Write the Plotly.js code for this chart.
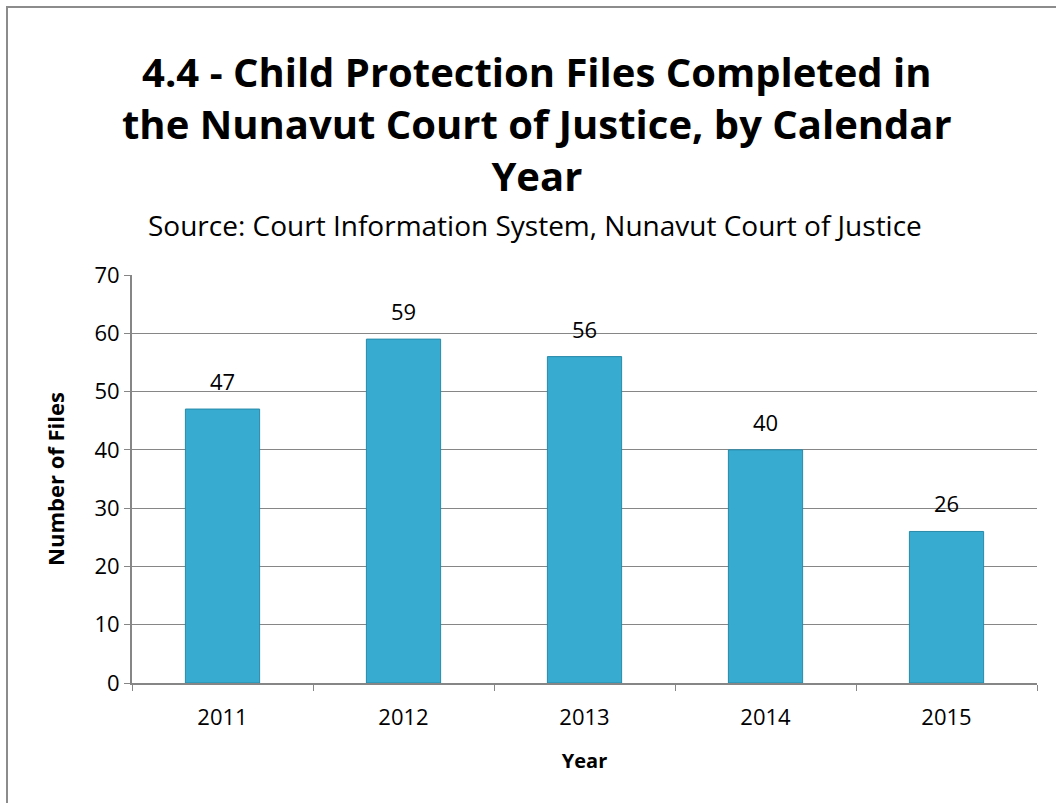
<!DOCTYPE html>
<html>
<head>
<meta charset="utf-8">
<script src="https://cdn.plot.ly/plotly-3.0.1.min.js"></script>
<style>
  body { margin: 0; background: #fff; }
  #frame { position: absolute; left: 6px; top: 6px; width: 1100px; height: 900px;
           border-left: 2px solid #8c8c8c; border-top: 2px solid #8c8c8c; }
  #chart { position: absolute; left: 0; top: 0; width: 1056px; height: 803px; }
</style>
</head>
<body>
<div id="frame"></div>
<div id="chart"></div>
<script>
// values
let years = ['2011', '2012', '2013', '2014', '2015'];
let files = [47, 59, 56, 40, 26];
let yTicks = [0, 10, 20, 30, 40, 50, 60, 70];

let font = '"Open Sans", Lato, sans-serif';

let trace = [{
  x: years,
  y: files,
  type: 'bar',
  marker: {
    color: '#37acd0',
    line: {color: '#2789a8', width: 1}
  },
  hoverinfo: 'x+y'
}];

// value labels above each bar (x given as category index)
let labels = [];
for (let i = 0; i < years.length; i++) {
  labels.push({
    x: i, y: files[i], text: String(files[i]),
    xref: 'x', yref: 'y',
    showarrow: false, yanchor: 'bottom', yshift: 11,
    font: {family: font, size: 22, color: '#000'}
  });
}

let titleNotes = [
  {
    text: '<b>4.4 - Child Protection Files Completed in<br>the Nunavut Court of Justice, by Calendar<br>Year</b>',
    xref: 'paper', yref: 'paper', x: 0.448, y: 1.57,
    xanchor: 'center', yanchor: 'top', showarrow: false,
    font: {family: font, size: 40, color: '#000'}
  },
  {
    text: 'Source: Court Information System, Nunavut Court of Justice',
    xref: 'paper', yref: 'paper', x: 0.445, y: 1.1225,
    xanchor: 'center', yanchor: 'middle', showarrow: false,
    font: {family: font, size: 28, color: '#000'}
  }
];

let layout = {
  width: 1056,
  height: 803,
  margin: {l: 132, r: 19, t: 275, b: 120},
  paper_bgcolor: 'rgba(0,0,0,0)',
  plot_bgcolor: '#fff',
  showlegend: false,
  bargap: 0.59,
  annotations: titleNotes.concat(labels),
  xaxis: {
    type: 'category',
    title: {text: '<b>Year</b>', font: {family: font, size: 20, color: '#000'}, standoff: 24},
    tickfont: {family: font, size: 22, color: '#000'},
    tickangle: 0,
    ticklabelstandoff: 14,
    showline: true, linecolor: '#868686', linewidth: 2,
    ticks: 'outside', tickson: 'boundaries', ticklen: 6, tickcolor: '#868686',
    showgrid: false, zeroline: false
  },
  yaxis: {
    range: [0, 70],
    tickvals: yTicks,
    title: {text: '<b>Number of Files</b>', font: {family: font, size: 22, color: '#000'}, standoff: 24},
    tickfont: {family: font, size: 22, color: '#000'},
    showline: true, linecolor: '#868686', linewidth: 2,
    ticks: 'outside', ticklen: 6, tickcolor: '#868686',
    showgrid: true, gridcolor: '#868686', gridwidth: 1,
    zeroline: false
  }
};

Plotly.newPlot('chart', trace, layout, {displayModeBar: false});
</script>
</body>
</html>
